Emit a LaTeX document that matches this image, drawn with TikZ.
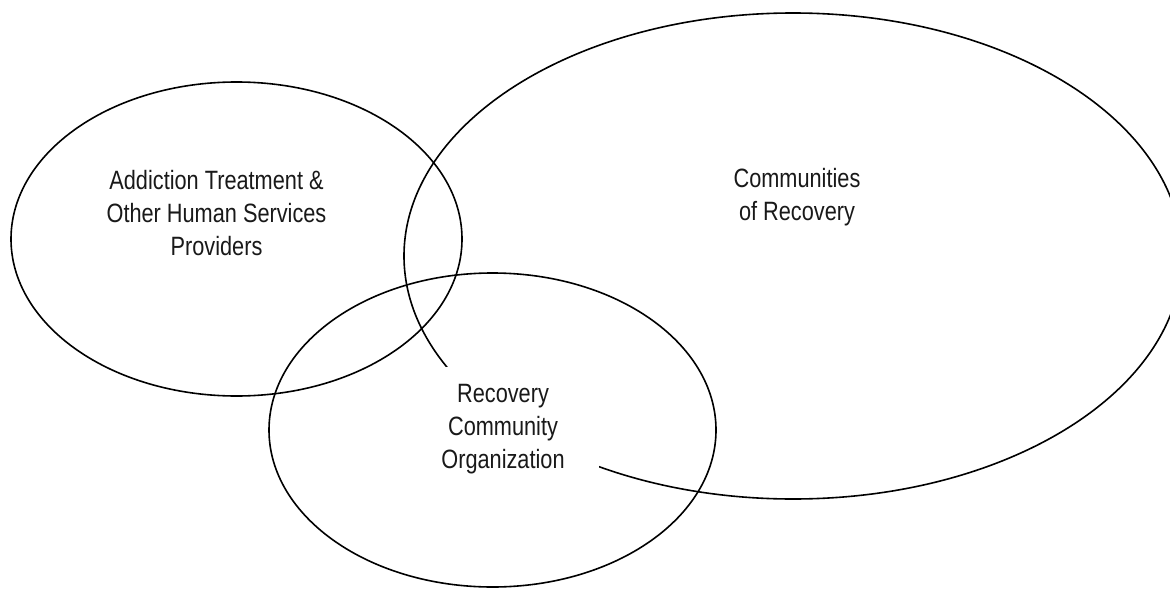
\documentclass[tikz,border=0pt]{standalone}
\usepackage{fontspec}
\setmainfont[FakeStretch=0.82]{Liberation Sans}
\usetikzlibrary{shapes.geometric}
\begin{document}
\begin{tikzpicture}[x=1pt,y=-1pt,
  ring/.style={ellipse, draw=black, line width=1.6pt, inner sep=0pt, outer sep=0pt},
  lbl/.style={align=center, inner sep=0pt, font=\fontsize{26.5pt}{33pt}\selectfont, text=black!90}]
\useasboundingbox[fill=white] (0,0) rectangle (1170,589);
\node[ring, minimum width=451pt, minimum height=314pt] (prov) at (236.5,239) {};
\node[ring, minimum width=778pt, minimum height=486pt] (comm) at (793,256) {};
\node[ring, minimum width=447pt, minimum height=314pt] (rco) at (492.5,430) {};
\node[lbl, fill=white, text width=192pt, minimum height=124pt] (rcot) at (503,429) {Recovery\\Community\\Organization};
\node[lbl] (provt) at (216.5,213.3) {Addiction Treatment \&\\Other Human Services\\Providers};
\node[lbl] (commt) at (797,197.6) {Communities\\of Recovery};
\end{tikzpicture}
\end{document}
